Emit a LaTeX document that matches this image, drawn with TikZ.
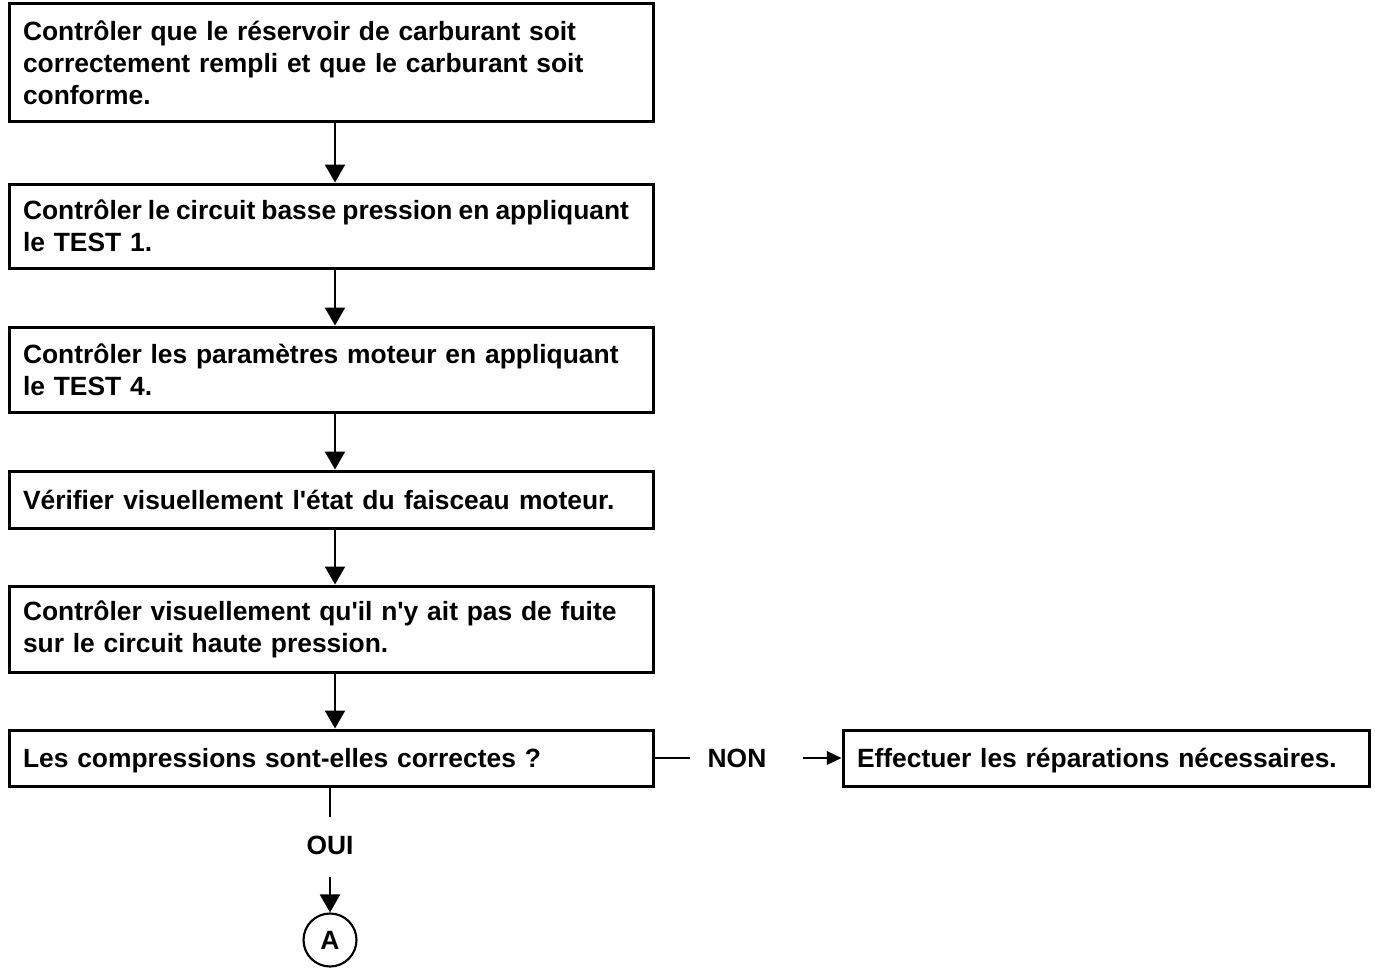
\documentclass[tikz,border=0pt]{standalone}
\usepackage{fontspec}
\setmainfont{Liberation Sans}
\usetikzlibrary{arrows.meta}

% one line of text set with a given inter-word space
\newcommand{\gapline}[2]{\mbox{\spaceskip=#1\relax #2}}

\begin{document}
\begin{tikzpicture}[x=0.75pt,y=-0.75pt,
  every node/.style={font=\fontsize{19.8pt}{24pt}\selectfont\bfseries},
  stepbox/.style={draw=black,line width=2.25pt,rectangle,inner xsep=10.5pt,inner ysep=0pt,
    align=left,text width=#1,execute at begin node={\hyphenpenalty=10000\exhyphenpenalty=10000}},
  stepbox/.default=462pt,
  link/.style={draw=black,line width=1.8pt},
  flow/.style={link,-{Triangle[length=13.5pt,width=15pt]}},
  sideflow/.style={link,-{Triangle[length=11pt,width=10pt]}},
  label/.style={inner sep=0pt},
  connector/.style={draw=black,line width=1.6pt,circle,minimum size=39.75pt,inner sep=0pt}
]
\useasboundingbox (0,0) rectangle (1375,974);

% main sequence of checks
\node[stepbox,minimum height=88.5pt] (b1) at (331,63)
  {Contrôler que le réservoir de carburant soit\\correctement rempli et que le carburant soit\\conforme.};
\node[stepbox,minimum height=63pt] (b2) at (331,226)
  {\gapline{4.6pt}{Contrôler le circuit basse pression en appliquant}\\le TEST 1.};
\node[stepbox,minimum height=63.75pt] (b3) at (331,369.5)
  {Contrôler les paramètres moteur en appliquant\\le TEST 4.};
\node[stepbox,minimum height=42.75pt] (b4) at (331,499.5)
  {\gapline{7pt}{Vérifier visuellement l\textquotesingle{}état du faisceau moteur.}};
\node[stepbox,minimum height=64.5pt] (b5) at (331,629)
  {Contrôler visuellement qu\textquotesingle{}il n\textquotesingle{}y ait pas de fuite\\sur le circuit haute pression.};
\node[stepbox,minimum height=42pt,text depth=0pt] (b6) at (331,758)
  {Les compressions sont-elles correctes ?};

% repair branch
\node[stepbox=373.5pt,minimum height=42pt,text depth=0pt] (b7) at (1106,758)
  {Effectuer les réparations nécessaires.};

\draw[flow] ([xshift=3pt]b1.south) -- ([xshift=3pt]b2.north);
\draw[flow] ([xshift=3pt]b2.south) -- ([xshift=3pt]b3.north);
\draw[flow] ([xshift=3pt]b3.south) -- ([xshift=3pt]b4.north);
\draw[flow] ([xshift=3pt]b4.south) -- ([xshift=3pt]b5.north);
\draw[flow] ([xshift=3pt]b5.south) -- ([xshift=3pt]b6.north);

% NON
\coordinate (nonend) at (690,758);
\coordinate (nonstart) at (803,758);
\node[label] (non) at (737,758) {NON};
\draw[link] (b6.east) -- (nonend);
\draw[sideflow] (nonstart) -- (b7.west);

% OUI
\coordinate (ouiend) at (330,817);
\coordinate (ouistart) at (330,877);
\node[label] (oui) at (330,845) {OUI};
\node[connector] (A) at (330,940) {A};
\draw[link] (ouiend |- b6.south) -- (ouiend);
\draw[flow] (ouistart) -- (A.north);
\end{tikzpicture}
\end{document}
